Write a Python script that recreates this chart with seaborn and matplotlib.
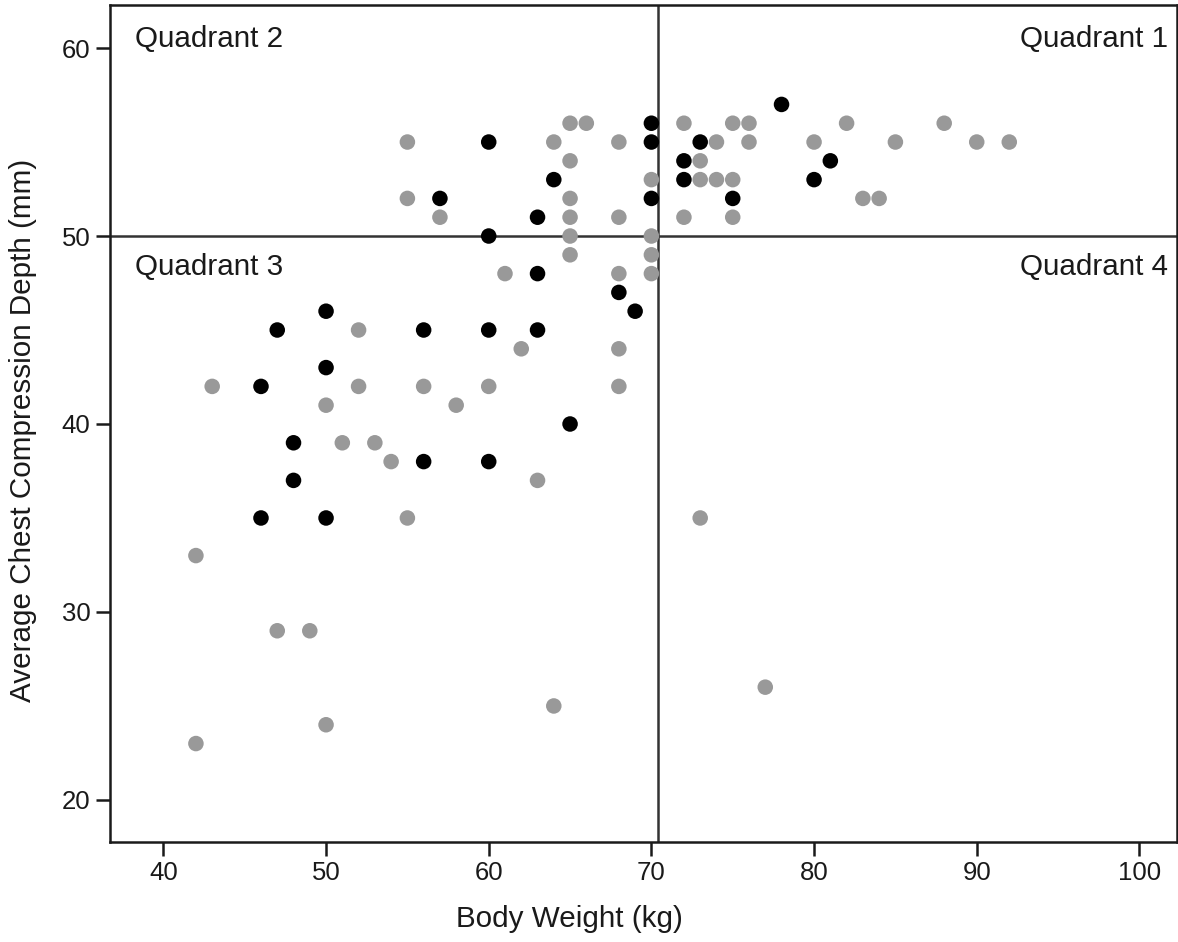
import matplotlib
matplotlib.use("Agg")
import matplotlib.pyplot as plt
import seaborn as sns
import pandas as pd

# Black points (group A)
black_x = [57, 60, 60, 64, 63, 70, 70, 70, 72, 72, 73, 75, 78, 80, 81,
           50, 47, 56, 60, 63, 63, 68, 69, 50, 46, 65, 48, 56, 60, 48, 46, 50]
black_y = [52, 55, 50, 53, 51, 56, 55, 52, 54, 53, 55, 52, 57, 53, 54,
           46, 45, 45, 45, 45, 48, 47, 46, 43, 42, 40, 39, 38, 38, 37, 35, 35]

# Gray points (group B)
gray_x = [55, 55, 57, 64, 65, 66, 65, 65, 65, 65, 65, 68, 68, 70, 70, 70, 70,
          72, 72, 73, 73, 74, 74, 75, 75, 75, 76, 76, 80, 82, 83, 84, 85, 88, 90, 92,
          61, 68, 62, 68, 68, 60, 58, 52, 43, 52, 56, 50, 51, 53, 54, 63, 55,
          42, 47, 49, 64, 50, 42, 73, 77]
gray_y = [55, 52, 51, 55, 56, 56, 54, 52, 51, 50, 49, 55, 51, 53, 50, 49, 48,
          56, 51, 54, 53, 55, 53, 56, 53, 51, 56, 55, 55, 56, 52, 52, 55, 56, 55, 55,
          48, 48, 44, 44, 42, 42, 41, 45, 42, 42, 42, 41, 39, 39, 38, 37, 35,
          33, 29, 29, 25, 24, 23, 35, 26]

group_labels = ["A", "B"]
x_ticks = [40, 50, 60, 70, 80, 90, 100]
y_ticks = [20, 30, 40, 50, 60]
quadrant_names = ["Quadrant 1", "Quadrant 2", "Quadrant 3", "Quadrant 4"]
x_split = 70.4
y_split = 50

df = pd.DataFrame({
    "weight": gray_x + black_x,
    "depth": gray_y + black_y,
    "group": [group_labels[1]] * len(gray_x) + [group_labels[0]] * len(black_x),
})

sns.set_theme(style="white")
plt.rcParams["font.family"] = ["Liberation Sans", "DejaVu Sans"]

fig = plt.figure(figsize=(11.78, 9.42), dpi=100)
ax = fig.add_axes([0.0934, 0.1065, 0.9056, 0.8882])

sns.scatterplot(data=df, x="weight", y="depth", hue="group",
                palette={"A": "#000000", "B": "#999999"},
                s=125, edgecolor="none", linewidth=0, legend=False, ax=ax, zorder=3)

ax.axvline(x_split, color="#333333", lw=1.8, zorder=2)
ax.axhline(y_split, color="#333333", lw=1.8, zorder=2)

ax.set_xlim(36.72, 102.3)
ax.set_ylim(17.78, 62.29)
ax.set_xticks(x_ticks)
ax.set_yticks(y_ticks)

for sp in ax.spines.values():
    sp.set_color("#1a1a1a")
    sp.set_linewidth(1.8)

ax.tick_params(axis="both", direction="out", length=10, width=1.8,
               color="#1a1a1a", labelsize=18.5, labelcolor="#1a1a1a", pad=4,
               bottom=True, left=True)

ax.set_xlabel("Body Weight (kg)", fontsize=21.3, color="#1a1a1a")
ax.set_ylabel("Average Chest Compression Depth (mm)", fontsize=21.3, color="#1a1a1a")
ax.xaxis.set_label_coords(0.431, -0.076)
ax.yaxis.set_label_coords(-0.068, 0.492)

tkw = dict(fontsize=21.3, color="#1a1a1a", transform=ax.transAxes)
ax.text(0.0234, 0.9594, quadrant_names[1], ha="left", va="center", **tkw)
ax.text(0.9916, 0.9594, quadrant_names[0], ha="right", va="center", **tkw)
ax.text(0.0234, 0.6864, quadrant_names[2], ha="left", va="center", **tkw)
ax.text(0.9916, 0.6864, quadrant_names[3], ha="right", va="center", **tkw)

fig.savefig("out.png", dpi=100)
